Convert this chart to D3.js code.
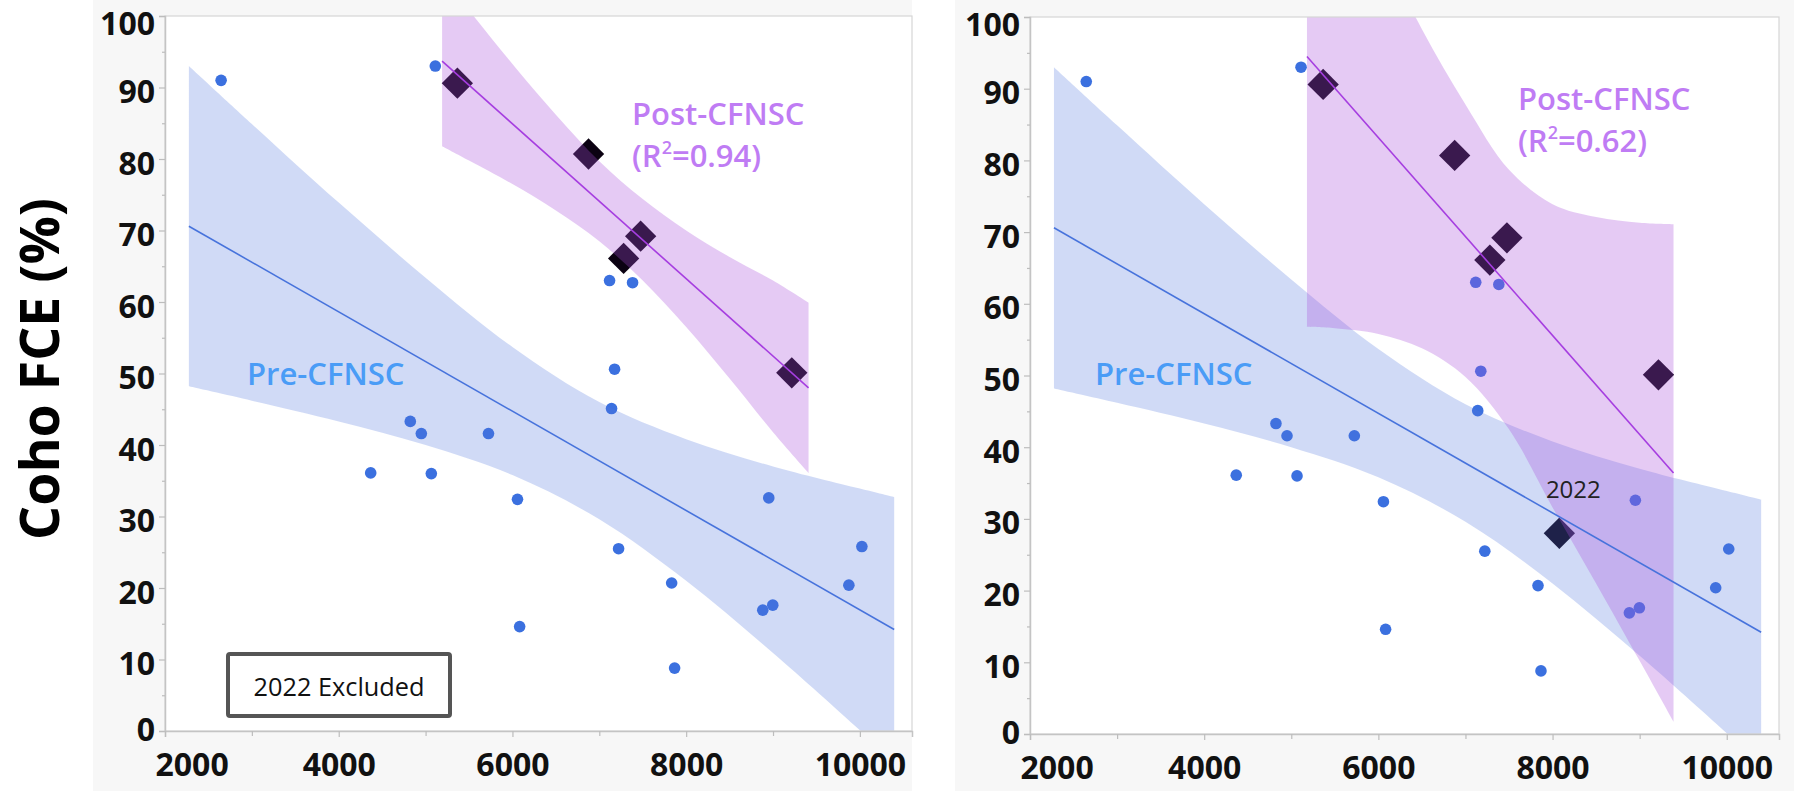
<!DOCTYPE html>
<html><head><meta charset="utf-8">
<script src="https://cdn.jsdelivr.net/npm/d3@7"></script>
<style>
body{margin:0;background:#fff}
svg{display:block}
text{font-family:"Open Sans",sans-serif}
</style>
</head><body>
<svg id="c" width="1794" height="791"></svg>
<script>
// ---------- data ----------
const preX = [2646,5112,4368,4824,4951,5066,5724,6058,6083,7118,7141,7176,7222,7383,7833,7867,8882,8951,8997,9873,10023];
const preY = [91.0,93.0,36.1,43.3,41.6,36.0,41.6,32.4,14.6,63.0,45.1,50.6,25.5,62.7,20.7,8.8,16.9,32.6,17.6,20.4,25.8];
const postX = [5366,6876,7476,7280,9216];
const postY = [90.6,80.7,69.2,66.1,50.1];
const y2022X = [8078];
const y2022Y = [28.0];

const preLineX = [2275,10395];
const preLineY = [70.6,14.2];
const preBandX  = [2275,3000,4000,5000,6000,7000,8000,9000,10000,10395];
const preBandLo = [48.2,46.2,43.3,40.0,35.8,29.6,21.0,10.9,0.1,-4.3];
const preBandHi = [93.0,84.9,73.9,63.4,53.7,46.0,40.8,37.0,33.9,32.7];

// post fit, 2022 excluded (left panel)
const postLineX = [5190,9409];
const postLineY = [93.7,48.0];
const postBandX  = [5190,5500,6000,6500,7000,7500,8000,8500,9000,9409];
const postBandLo = [81.8,79.8,76.5,72.8,68.5,63.0,56.5,49.3,41.8,36.1];
const postBandHi = [105.6,100.8,93.3,86.2,79.7,74.4,70.0,66.3,63.0,59.9];

// post fit, 2022 included (right panel)
const post22LineX = [5180,9389];
const post22LineY = [94.5,36.4];
const post22BandX  = [5180,5500,6000,6500,7000,7500,8000,8500,9000,9389];
const post22BandLo = [56.8,56.6,55.8,53.8,49.8,42.5,31.6,21.0,10.2,1.7];
const post22BandHi = [132.2,123.4,110.4,98.3,87.8,78.7,73.9,72.1,71.3,71.1];

const xTicks = [2000,4000,6000,8000,10000];
const xMinor = [3000,5000,7000,9000];
const yTicks = [0,10,20,30,40,50,60,70,80,90,100];
const yMinor = [5,15,25,35,45,55,65,75,85,95];
const xDomain = [2000,10600];
const yDomain = [0,100];

const yTitle = "Coho FCE (%)";
const preLabel = "Pre-CFNSC";
const postLabel = "Post-CFNSC";
const r2Left = "0.94", r2Right = "0.62";
const excludedLabel = "2022 Excluded";
const label2022 = "2022";

// ---------- drawing ----------
const svg = d3.select("#c");
const zip = (xs, ys) => xs.map((x,i)=>({x, y: ys[i]}));
const zipBand = (xs, lo, hi) => xs.map((x,i)=>({x, lo: lo[i], hi: hi[i]}));

const BLUE_DOT = "#3b70df";
const BLUE_LINE = "#4773dc";
const BLUE_BAND = "rgba(80,120,220,0.27)";
const PURPLE_BAND = "rgba(170,80,220,0.30)";
const PURPLE_LINE = "#a63ee0";
const PURPLE_TEXT = "#bf7cf4";
const BLUE_TEXT = "#4a9cf6";

function drawPanel(cfg){
  const g = svg.append("g");
  g.append("rect").attr("x",cfg.bg[0]).attr("y",0).attr("width",cfg.bg[1]-cfg.bg[0]).attr("height",791).attr("fill","#f7f7f7");
  const x = d3.scaleLinear().domain(xDomain).range([cfg.left, cfg.right]);
  const y = d3.scaleLinear().domain(yDomain).range([cfg.bottom, cfg.top]);
  g.append("rect").attr("x",cfg.left).attr("y",cfg.top).attr("width",cfg.right-cfg.left).attr("height",cfg.bottom-cfg.top).attr("fill","#fff");

  const clipId = "clip"+cfg.id;
  svg.append("defs").append("clipPath").attr("id",clipId).append("rect")
    .attr("x",cfg.left).attr("y",cfg.top).attr("width",cfg.right-cfg.left).attr("height",cfg.bottom-cfg.top);
  const pg = g.append("g").attr("clip-path",`url(#${clipId})`);

  const area = d3.area().x(d=>x(d.x)).y0(d=>y(d.lo)).y1(d=>y(d.hi)).curve(d3.curveCatmullRom.alpha(0.5));
  const line = d3.line().x(d=>x(d.x)).y(d=>y(d.y));

  pg.selectAll("circle.pre").data(zip(preX,preY)).join("circle").attr("class","pre")
    .attr("cx",d=>x(d.x)).attr("cy",d=>y(d.y)).attr("r",5.8).attr("fill",BLUE_DOT);
  const dia = d3.symbol(d3.symbolSquare).size(490);
  const posts = zip(postX,postY).concat(cfg.with2022 ? zip(y2022X,y2022Y) : []);
  pg.selectAll("path.post").data(posts).join("path").attr("class","post")
    .attr("d",dia()).attr("transform",d=>`translate(${x(d.x)},${y(d.y)}) rotate(45)`).attr("fill","#0b0212");

  pg.append("path").datum(zipBand(preBandX,preBandLo,preBandHi)).attr("d",area).attr("fill",BLUE_BAND);
  pg.append("path").datum(zipBand(cfg.bandX,cfg.bandLo,cfg.bandHi)).attr("d",area).attr("fill",PURPLE_BAND);

  pg.append("path").datum(zip(preLineX,preLineY)).attr("d",line).attr("fill","none").attr("stroke",BLUE_LINE).attr("stroke-width",1.6);
  pg.append("path").datum(zip(cfg.lineX,cfg.lineY)).attr("d",line).attr("fill","none").attr("stroke",PURPLE_LINE).attr("stroke-width",1.6);

  g.append("rect").attr("x",cfg.left).attr("y",cfg.top).attr("width",cfg.right-cfg.left).attr("height",cfg.bottom-cfg.top)
    .attr("fill","none").attr("stroke","#d6d6d6").attr("stroke-width",1.2);

  const ya = g.append("g").attr("transform",`translate(${cfg.left},0)`)
    .call(d3.axisLeft(y).tickValues(yTicks).tickSize(6).tickPadding(4).tickFormat(d3.format("d")));
  g.append("g").attr("transform",`translate(${cfg.left},0)`)
    .call(d3.axisLeft(y).tickValues(yMinor).tickSize(3).tickFormat(""))
    .call(s=>s.select(".domain").remove());
  const xa = g.append("g").attr("transform",`translate(0,${cfg.bottom})`)
    .call(d3.axisBottom(x).tickValues(xTicks).tickSize(6).tickFormat(d3.format("d")));
  g.append("g").attr("transform",`translate(0,${cfg.bottom})`)
    .call(d3.axisBottom(x).tickValues(xMinor).tickSize(5).tickFormat(""))
    .call(s=>s.select(".domain").remove());
  g.selectAll(".domain").attr("stroke","#c4c4c4").attr("stroke-width",1.5);
  g.selectAll(".tick line").attr("stroke","#bdbdbd").attr("stroke-width",1.2);
  ya.selectAll("text").attr("font-size",32).attr("font-weight",700).attr("fill","#111")
    .attr("dy",d=> d===100 ? 18 : (d===0 ? 9.5 : 15));
  xa.selectAll("text").attr("font-size",32).attr("font-weight",700).attr("fill","#111")
    .attr("y",45).attr("dy",0)
    .attr("text-anchor",d=> d===2000 ? "start" : "middle")
    .attr("x",d=> d===2000 ? -10 : 0);

  g.append("text").attr("x",cfg.preLab[0]).attr("y",cfg.preLab[1]).attr("font-size",31).attr("font-weight",600)
    .attr("fill",BLUE_TEXT).text(preLabel);
  g.append("text").attr("x",cfg.postLab[0]).attr("y",cfg.postLab[1]).attr("font-size",31).attr("font-weight",600)
    .attr("fill",PURPLE_TEXT).text(postLabel);
  const r = g.append("text").attr("x",cfg.postLab[0]).attr("y",cfg.postLab[1]+42).attr("font-size",31).attr("font-weight",600)
    .attr("fill",PURPLE_TEXT);
  r.append("tspan").text("(R");
  r.append("tspan").attr("font-size",18).attr("dy",-13).text("2");
  r.append("tspan").attr("dy",13).text("=" + cfg.r2 + ")");
  return {x,y,g};
}

const L = drawPanel({id:"L", bg:[93,912], left:165, right:912, top:16, bottom:731,
  bandX:postBandX, bandLo:postBandLo, bandHi:postBandHi, lineX:postLineX, lineY:postLineY,
  with2022:false, preLab:[247,385], postLab:[632,125], r2:r2Left});
const R = drawPanel({id:"R", bg:[955,1794], left:1030, right:1779, top:17, bottom:734,
  bandX:post22BandX, bandLo:post22BandLo, bandHi:post22BandHi, lineX:post22LineX, lineY:post22LineY,
  with2022:true, preLab:[1095,385], postLab:[1518,110], r2:r2Right});

R.g.append("text").attr("x",R.x(y2022X[0])+14).attr("y",R.y(y2022Y[0])-35).attr("text-anchor","middle")
  .attr("font-size",24).attr("fill","#222").text(label2022);

L.g.append("rect").attr("x",228).attr("y",654).attr("width",222).attr("height",62).attr("rx",2)
  .attr("fill","#fff").attr("stroke","#555").attr("stroke-width",4);
L.g.append("text").attr("x",339).attr("y",696).attr("text-anchor","middle").attr("font-size",26)
  .attr("textLength",171).attr("lengthAdjust","spacingAndGlyphs").attr("fill","#111").text(excludedLabel);

svg.append("text").attr("transform","translate(59,369) rotate(-90)").attr("text-anchor","middle")
  .attr("font-size",53).attr("font-weight",700).attr("fill","#000")
  .attr("textLength",342).attr("lengthAdjust","spacingAndGlyphs").text(yTitle);
</script>
</body></html>
